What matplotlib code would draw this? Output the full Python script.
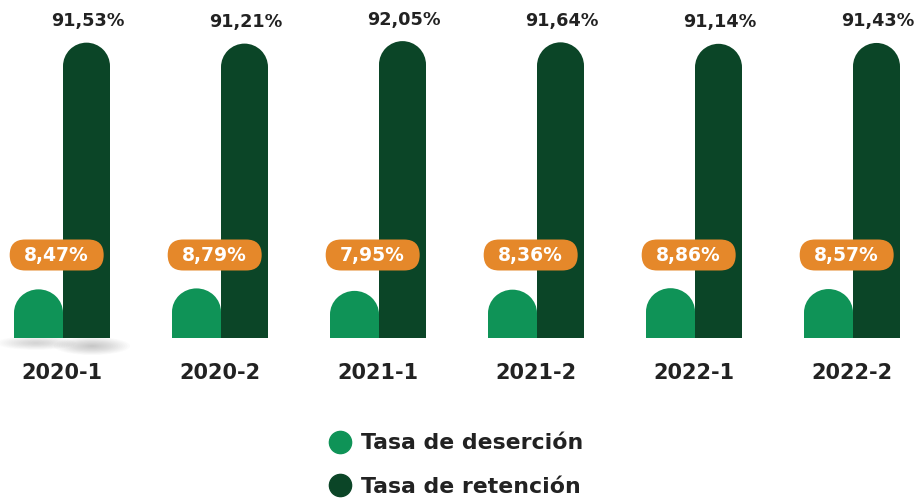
import matplotlib
matplotlib.use('Agg')
import matplotlib.pyplot as plt
from matplotlib.patches import Rectangle, Ellipse, FancyBboxPatch
from matplotlib.transforms import IdentityTransform
from matplotlib.lines import Line2D

periods = ['2020-1', '2020-2', '2021-1', '2021-2', '2022-1', '2022-2']
desercion = [8.47, 8.79, 7.95, 8.36, 8.86, 8.57]
retencion = [91.53, 91.21, 92.05, 91.64, 91.14, 91.43]

GREEN = '#0f9357'
DARK = '#0b4527'
ORANGE = '#e5882a'
TEXT = '#222222'

plt.rcParams['font.family'] = ['DejaVu Sans']

W, H, DPI = 916, 499, 100
fig = plt.figure(figsize=(W / DPI, H / DPI), dpi=DPI)
ax = fig.add_axes([0, 0, 1, 1])

# pixel geometry: 158 px per group, ~2.97 px per percentage point
PX_X = 158.0
PX_Y = 2.97
BASE = 161  # baseline height above the bottom edge, px
ax.set_xlim(-63 / PX_X, (W - 63) / PX_X)
ax.set_ylim(-BASE / PX_Y, (H - BASE) / PX_Y)
ax.axis('off')

bw_g = 49 / PX_X         # green bar width
bw_d = 47 / PX_X         # dark bar width
cap_r = 23.5             # cap radius, px


def fmt(v):
    return '{:.2f}%'.format(v).replace('.', ',')


def rounded_bar(x0, w, value, color):
    ax.add_patch(Rectangle((x0, 0), w, value, color=color, lw=0, zorder=2))
    ax.add_patch(Ellipse((x0 + w / 2, value), w, 2 * cap_r / PX_Y,
                         color=color, lw=0, zorder=2))


def soft_shadow(cx, cy, w, h, alpha, n=16):
    # stacked ellipses in pixel coords (y measured from the top)
    for k in range(n):
        f = 1 - k / n
        ax.add_patch(Ellipse((cx, H - cy), w * f, h * f, color='#606060', alpha=alpha,
                             lw=0, transform=IdentityTransform(), zorder=1))


# shadow under the first pair of bars only
soft_shadow(36, 343, 80, 14, 0.014)
soft_shadow(92, 346, 76, 18, 0.022)

for i, (p, d, r) in enumerate(zip(periods, desercion, retencion)):
    rounded_bar(i - bw_g, bw_g, d, GREEN)
    rounded_bar(i, bw_d, r, DARK)

    ax.annotate(fmt(r), (i + bw_d / 2 + 0.01, r), xytext=(0, 26), textcoords='offset points',
                ha='center', va='bottom', fontsize=12.7, fontweight='bold', color=TEXT)

    # orange pill, drawn in pixels
    cx, cy = ax.transData.transform((i - 0.04, 0))[0], H - 255
    ax.add_patch(FancyBboxPatch((cx - 47, cy - 15.5), 94, 31,
                                boxstyle='round,pad=0,rounding_size=15.5',
                                fc=ORANGE, ec='none', transform=IdentityTransform(), zorder=3))
    ax.text(i - 0.04, (338 - 255) / PX_Y, fmt(d), ha='center', va='center',
            fontsize=13.5, fontweight='bold', color='white', zorder=4)

    ax.text(i - 0.006, -35 / PX_Y, p, ha='center', va='center', fontsize=15,
            fontweight='bold', color=TEXT)

handles = [Line2D([], [], ls='none', marker='o', ms=16, color=GREEN),
           Line2D([], [], ls='none', marker='o', ms=16, color=DARK)]
fig.legend(handles, ['Tasa de deserción', 'Tasa de retención'],
           loc='center', bbox_to_anchor=(456 / W, 1 - 465 / H), frameon=False,
           prop=dict(size=15.8, weight='bold'), labelcolor=TEXT,
           handletextpad=0.45, labelspacing=1.05, handlelength=1.0)

fig.savefig('out.png', dpi=DPI)
